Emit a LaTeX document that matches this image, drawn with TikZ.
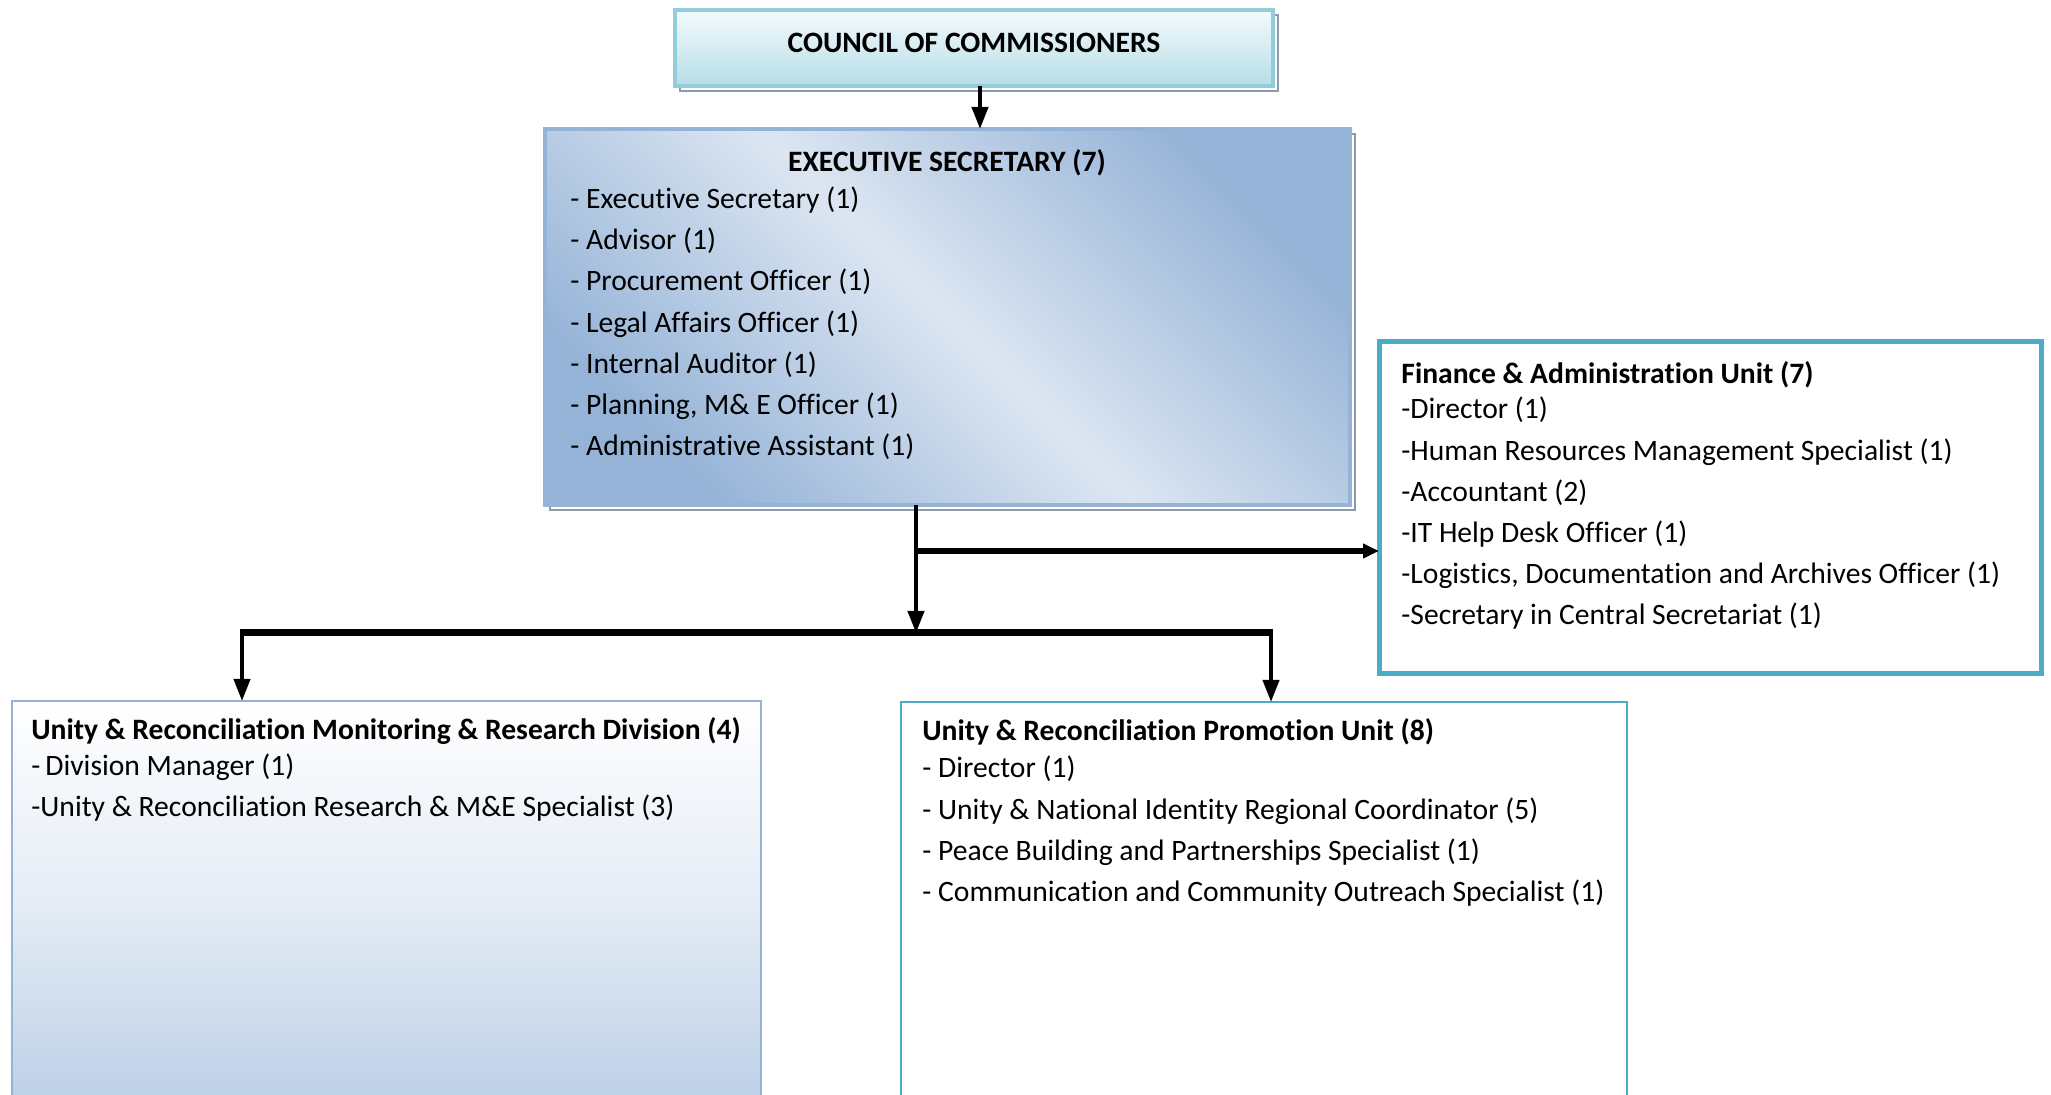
\documentclass[tikz,border=0pt]{standalone}
\usepackage{fontspec}
\setmainfont[Ligatures=NoCommon]{Carlito}
\usetikzlibrary{arrows.meta}
\definecolor{cborder}{HTML}{92CDDC}
\definecolor{ctop}{HTML}{F4FAFC}
\definecolor{cbot}{HTML}{B7DEE8}
\definecolor{eborder}{HTML}{95B3D7}
\definecolor{edark}{HTML}{95B3D7}
\definecolor{elight}{HTML}{DCE6F2}
\definecolor{teal}{HTML}{4BACC6}
\definecolor{lbot}{HTML}{B9CDE5}
\definecolor{shadowgray}{HTML}{8E9AA8}
\tikzset{
  box/.style={anchor=north west, inner sep=0pt, outer sep=0pt},
  shadowbox/.style={box, draw=shadowgray, line width=1pt, fill=white},
  txt/.style={anchor=base west, inner sep=0pt, font=\fontsize{14.8}{17}\selectfont},
  ttl/.style={txt, font=\fontsize{14.8}{17}\selectfont\bfseries},
  conn/.style={line width=2pt, black},
  bar/.style={line width=3.5pt, black},
  tip/.style={-{Triangle[length=11pt, width=8pt]}},
  tipsmall/.style={-{Triangle[length=8pt, width=7pt]}},
}
\begin{document}
\begin{tikzpicture}[x=0.5pt, y=-0.5pt]
\clip (0,0) rectangle (2051,1095);
\fill[white] (0,0) rectangle (2051,1095);

% ---- Council of Commissioners
\node[shadowbox, minimum width=299pt, minimum height=38pt] (councilsh) at (680,15) {};
\node[box, draw=cborder, line width=2pt, top color=ctop, bottom color=cbot,
      minimum width=299pt, minimum height=38pt] (council) at (675,10) {};
\node[anchor=base, inner sep=0pt, font=\fontsize{14.8}{17}\selectfont\bfseries] (councilt) at (974,53) {COUNCIL OF COMMISSIONERS};

% ---- Executive Secretary
\node[shadowbox, minimum width=402.5pt, minimum height=188pt] (execsh) at (550,134) {};
\node[box, draw=eborder, line width=2pt, left color=edark, right color=edark, middle color=elight,
      shading angle=-45, minimum width=402.5pt, minimum height=188pt] (exec) at (545,129) {};
\node[anchor=base, inner sep=0pt, font=\fontsize{14.8}{17}\selectfont\bfseries] (exect) at (947,172) {EXECUTIVE SECRETARY (7)};
\foreach \t [count=\i] in {Executive Secretary (1), Advisor (1), Procurement Officer (1),
    Legal Affairs Officer (1), Internal Auditor (1), {Planning, M\& E Officer (1)},
    Administrative Assistant (1)} {
  \node[txt] (exec\i) at (570,{208.5+41.2*(\i-1)}) {- \t};
}

% ---- Finance & Administration Unit
\node[box, draw=teal, line width=2.5pt, fill=white, minimum width=331pt, minimum height=166pt] (fin) at (1379,342) {};
\node[ttl] (fint) at (1401,384) {Finance \& Administration Unit (7)};
\foreach \t [count=\i] in {Director (1), Human Resources Management Specialist (1), Accountant (2),
    IT Help Desk Officer (1), {Logistics, Documentation and Archives Officer (1)},
    Secretary in Central Secretariat (1)} {
  \node[txt] (fin\i) at (1401,{419+41.1*(\i-1)}) {-\t};
}

% ---- Unity & Reconciliation Monitoring & Research Division
\node[box, draw=eborder, line width=1.2pt, minimum width=374.5pt, minimum height=210pt,
      top color=white, bottom color=lbot, middle color=white!60!lbot] (mon) at (12,701) {};
\node[ttl] (mont) at (31,740) {Unity \& Reconciliation Monitoring \& Research Division (4)};
\node[txt] (mon1) at (31,776) {-\,Division Manager (1)};
\node[txt] (mon2) at (31,817) {-Unity \& Reconciliation Research \& M\&E Specialist (3)};

% ---- Unity & Reconciliation Promotion Unit
\node[box, draw=teal, line width=1.3pt, fill=white, minimum width=363pt, minimum height=210pt] (prom) at (901,702) {};
\node[ttl] (promt) at (922,741) {Unity \& Reconciliation Promotion Unit (8)};
\foreach \t [count=\i] in {Director (1), Unity \& National Identity Regional Coordinator (5),
    Peace Building and Partnerships Specialist (1), Communication and Community Outreach Specialist (1)} {
  \node[txt] (prom\i) at (922,{778+41.1*(\i-1)}) {- \t};
}

% ---- connectors
\coordinate (ca) at (980,0);
\coordinate (ex) at (916,0);
\coordinate (hub) at (916,633);
\coordinate (fbr) at (916,551);
\coordinate (lhub) at (242,633);
\coordinate (rhub) at (1271,633);

\draw[conn, tip] (council.south -| ca) -- (exec.north -| ca);
\draw[conn, tip] (exec.south -| ex) -- (hub);
\draw[line width=2.8pt, tipsmall] (fbr) -- (fin.west |- fbr);
\draw[bar] ([xshift=-1pt]lhub) -- ([xshift=1pt]rhub);
\draw[conn, tip] (lhub) -- (mon.north -| lhub);
\draw[conn, tip] (rhub) -- (prom.north -| rhub);
\end{tikzpicture}
\end{document}
